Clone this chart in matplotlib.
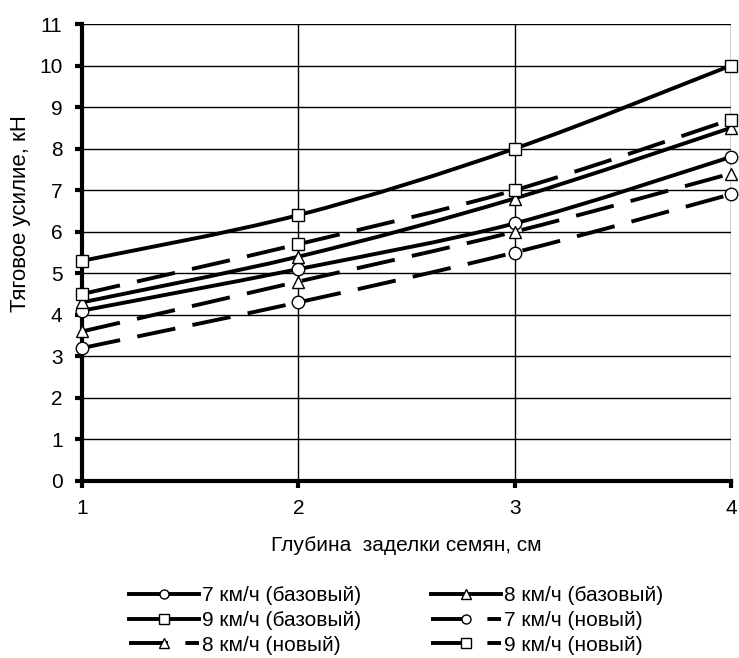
import matplotlib
matplotlib.use("Agg")
import matplotlib.pyplot as plt
import numpy as np
from matplotlib.path import Path
from matplotlib.patches import PathPatch
from matplotlib.lines import Line2D

plt.rcParams['font.family'] = ['Liberation Sans', 'DejaVu Sans']

depth = [1, 2, 3, 4]
v7_base = [4.1, 5.1, 6.2, 7.8]
v8_base = [4.3, 5.4, 6.8, 8.5]
v9_base = [5.3, 6.4, 8.0, 10.0]
v7_new = [3.2, 4.3, 5.5, 6.9]
v8_new = [3.6, 4.8, 6.0, 7.4]
v9_new = [4.5, 5.7, 7.0, 8.7]

labels = ["7 км/ч (базовый)", "8 км/ч (базовый)", "9 км/ч (базовый)",
          "7 км/ч (новый)", "8 км/ч (новый)", "9 км/ч (новый)"]
yticks = list(range(0, 12))
xticks = [1, 2, 3, 4]

fig = plt.figure(figsize=(7.39, 6.58), dpi=100)
ax = fig.add_axes([0.111, 0.269, 0.878, 0.6945])

LW = 2.8
DASH = (0, (10, 4.5))


def smooth_path(x, y):
    p = np.column_stack([x, y]).astype(float)
    n = len(p)
    verts = [p[0]]
    codes = [Path.MOVETO]
    for i in range(n - 1):
        p0 = p[i - 1] if i > 0 else p[i]
        p1 = p[i]
        p2 = p[i + 1]
        p3 = p[i + 2] if i + 2 < n else p[i + 1]
        c1 = p1 + (p2 - p0) / 6.0
        c2 = p2 - (p3 - p1) / 6.0
        verts += [c1, c2, p2]
        codes += [Path.CURVE4] * 3
    return Path(verts, codes)


series = [
    (v7_base, 'o', '-'),
    (v8_base, '^', '-'),
    (v9_base, 's', '-'),
    (v7_new, 'o', '--'),
    (v8_new, '^', '--'),
    (v9_new, 's', '--'),
]

handles = []
for (vals, mk, ls), lab in zip(series, labels):
    style = '-' if ls == '-' else DASH
    patch = PathPatch(smooth_path(depth, vals), fill=False, edgecolor='black',
                      linewidth=LW, linestyle=style, transform=ax.transData,
                      zorder=3, capstyle='butt')
    ax.add_patch(patch)
    ax.plot(depth, vals, linestyle='none', marker=mk, markersize=9,
            markerfacecolor='white', markeredgecolor='black', markeredgewidth=1.0,
            zorder=5, clip_on=False)
    h = Line2D([], [], color='black', linewidth=LW, linestyle=style, marker=mk,
               markersize=6.5, markerfacecolor='white', markeredgecolor='black',
               markeredgewidth=1.0)
    handles.append((h, lab))

ax.set_xlim(1, 4)
ax.set_ylim(0, 11)
ax.set_xticks(xticks)
ax.set_yticks(yticks)
ax.set_xticklabels([str(t) for t in xticks])
ax.set_yticklabels([str(t) for t in yticks])

ax.grid(True, color='black', linewidth=1.0)
ax.set_axisbelow(True)
for s in ['top', 'right']:
    ax.spines[s].set_visible(False)
for s in ['left', 'bottom']:
    ax.spines[s].set_linewidth(3)
    ax.spines[s].set_zorder(4)

ax.tick_params(axis='both', direction='out', length=5, width=3, labelsize=15,
               colors='black')
ax.tick_params(axis='y', pad=9)
ax.tick_params(axis='x', pad=8)

ax.set_xlabel("Глубина  заделки семян, см", fontsize=15, labelpad=13)
ax.set_ylabel("Тяговое усилие, кН", fontsize=16)
ax.yaxis.set_label_coords(-0.079, 0.586)

order = [0, 2, 4, 1, 3, 5]
leg = fig.legend([handles[i][0] for i in order], [handles[i][1] for i in order],
                 ncol=2, loc='upper left', bbox_to_anchor=(129 / 739, 1 - 586 / 658),
                 frameon=False, fontsize=15, handlelength=3.35,
                 handletextpad=0.15, columnspacing=3.35, labelspacing=0.28,
                 borderpad=0.0, borderaxespad=0.0)

fig.savefig("out.png", dpi=100)
